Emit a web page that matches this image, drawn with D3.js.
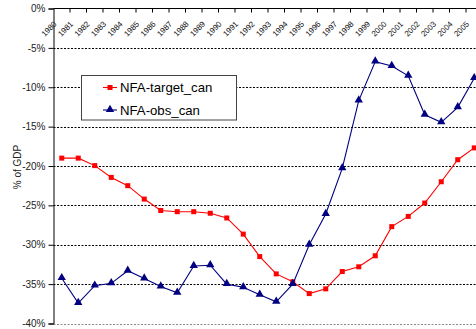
<!DOCTYPE html>
<html>
<head>
<meta charset="utf-8">
<script src="https://cdn.jsdelivr.net/npm/d3@7"></script>
<style>
  html, body { margin: 0; padding: 0; background: #fff; }
  svg { display: block; font-family: "Liberation Sans", Arial, sans-serif; }
</style>
</head>
<body>
<svg id="chart" width="476" height="329"></svg>
<script>
// Net foreign assets, Canada, % of GDP
const years = [1980,1981,1982,1983,1984,1985,1986,1987,1988,1989,1990,1991,1992,
               1993,1994,1995,1996,1997,1998,1999,2000,2001,2002,2003,2004,2005];
const targetCan = [-19.0,-19.0,-19.95,-21.45,-22.5,-24.2,-25.65,-25.8,-25.8,-26.0,-26.6,-28.65,-31.5,
                   -33.7,-34.7,-36.2,-35.6,-33.4,-32.8,-31.4,-27.7,-26.4,-24.7,-22.0,-19.2,-17.7];
const obsCan = [-34.25,-37.4,-35.2,-34.9,-33.3,-34.3,-35.3,-36.1,-32.7,-32.6,-35.0,-35.4,-36.35,
                -37.25,-35.0,-30.0,-26.1,-20.3,-11.7,-6.75,-7.3,-8.55,-13.5,-14.45,-12.55,-8.85];
const yTicks = [0,-5,-10,-15,-20,-25,-30,-35,-40];
const seriesNames = ["NFA-target_can", "NFA-obs_can"];

const svg = d3.select("#chart");
const W = 476, H = 329;
const plotLeft = 53.5, plotTop = 8.5, plotBottom = 323.5;
const band = 16.5;

const x = d3.scaleBand().domain(years).range([plotLeft, plotLeft + years.length * band]).padding(0);
const y = d3.scaleLinear().domain([0, -40]).range([plotTop, plotBottom]);
const cx = d => x(d) + x.bandwidth() / 2;

// dashed horizontal gridlines
svg.append("g").selectAll("line")
  .data(yTicks.filter(v => v !== 0))
  .join("line")
  .attr("x1", plotLeft).attr("x2", W)
  .attr("y1", d => Math.round(y(d)) + 0.5).attr("y2", d => Math.round(y(d)) + 0.5)
  .attr("stroke", d => d === -40 ? "#888" : "#000")
  .attr("stroke-width", 1)
  .attr("stroke-dasharray", "2,1.5");

// value axis on the left
const yAxis = d3.axisLeft(y).tickValues(yTicks).tickSize(5).tickPadding(3)
  .tickFormat(d => d + "%");
const gy = svg.append("g").attr("transform", `translate(${plotLeft},0)`).call(yAxis);
gy.select(".domain").attr("stroke", "#000");
gy.selectAll(".tick line").attr("stroke", "#000");
gy.selectAll(".tick text").attr("font-size", 10).attr("fill", "#222")
  .attr("font-family", "Liberation Sans, Arial, sans-serif");

// category axis along the top (crosses at 0%)
const xAxis = d3.axisBottom(x).tickSize(0).tickFormat("");
const gx = svg.append("g").attr("transform", `translate(0,${plotTop})`).call(xAxis);
gx.select(".domain").attr("stroke", "#000").attr("d", `M${plotLeft},0H${W + 20}`);
gx.selectAll(".tick").remove();
svg.append("g").selectAll("line")
  .data(years)
  .join("line")
  .attr("x1", d => x(d) + band).attr("x2", d => x(d) + band)
  .attr("y1", plotTop).attr("y2", plotTop + 4)
  .attr("stroke", "#000");
svg.append("g").selectAll("text")
  .data(years)
  .join("text")
  .attr("transform", d => `translate(${cx(d) - 4.5},${plotTop + 16}) rotate(-45)`)
  .attr("text-anchor", "end")
  .attr("font-size", 8)
  .attr("fill", "#111")
  .text(d => d);

// y-axis title
svg.append("text")
  .attr("transform", "translate(21,167) rotate(-90)")
  .attr("text-anchor", "middle")
  .attr("font-size", 10)
  .attr("fill", "#222")
  .text("% of GDP");

const line = d3.line().x((d, i) => cx(years[i])).y(d => y(d));

const tri = d3.symbol().type(d3.symbolTriangle).size(30);

function drawSeries(vals, color, marker) {
  svg.append("path").datum(vals)
    .attr("d", line).attr("fill", "none")
    .attr("stroke", color).attr("stroke-width", 1.1);
  const g = svg.append("g");
  if (marker === "square") {
    g.selectAll("rect").data(vals).join("rect")
      .attr("x", (d, i) => cx(years[i]) - 2.5).attr("y", d => y(d) - 2.5)
      .attr("width", 5).attr("height", 5).attr("fill", color);
  } else {
    g.selectAll("path").data(vals).join("path")
      .attr("d", tri)
      .attr("transform", (d, i) => `translate(${cx(years[i])},${y(d) - 0.5})`)
      .attr("fill", color);
  }
}

drawSeries(targetCan, "#ff0000", "square");
drawSeries(obsCan, "#000080", "triangle");

// legend
const lg = svg.append("g");
lg.append("rect").attr("x", 81.5).attr("y", 75.5).attr("width", 155).attr("height", 44.5)
  .attr("fill", "#fff").attr("stroke", "#444").attr("stroke-width", 1);
const colors = ["#ff0000", "#000080"];
const markers = ["square", "triangle"];
seriesNames.forEach((name, i) => {
  const ly = 87.5 + i * 22.5;
  lg.append("line").attr("x1", 103).attr("x2", 117).attr("y1", ly).attr("y2", ly)
    .attr("stroke", colors[i]).attr("stroke-width", 1.1);
  if (markers[i] === "square") {
    lg.append("rect").attr("x", 107.5).attr("y", ly - 2.5).attr("width", 5).attr("height", 5)
      .attr("fill", colors[i]);
  } else {
    lg.append("path").attr("d", tri).attr("transform", `translate(110,${ly - 0.5})`)
      .attr("fill", colors[i]);
  }
  lg.append("text").attr("x", 120).attr("y", ly + 4.5)
    .attr("font-size", 13.2).attr("fill", "#000").text(name);
});
</script>
</body>
</html>
